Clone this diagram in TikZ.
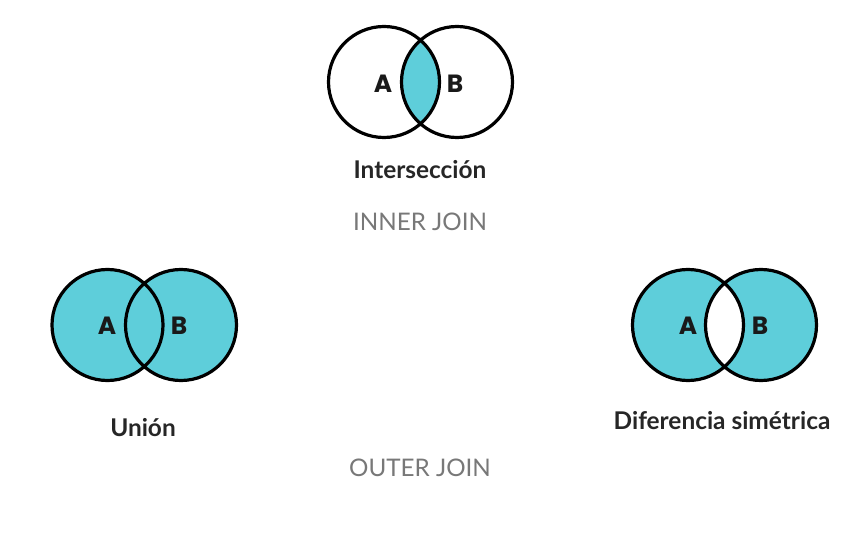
\documentclass[tikz,border=0pt]{standalone}
\usepackage{fontspec}
\setmainfont{Lato}
\newfontfamily\setfont{Poppins}
\definecolor{teal}{RGB}{94,206,218}
\definecolor{capgray}{RGB}{120,120,120}
\begin{document}
\begin{tikzpicture}[x=1bp,y=-1bp,
  ring/.style={draw=black,line width=3.2bp},
  setlabel/.style={font=\setfont\fontsize{25}{28}\selectfont\bfseries,text=black!90},
  title/.style={font=\fontsize{24.5}{28}\selectfont\bfseries,text=black!85},
  joinlabel/.style={font=\fontsize{24.3}{28}\selectfont,text=capgray}]
\useasboundingbox[fill=white] (0,0) rectangle (859,556);
\def\R{55.5}
% --- Intersection (top)
\coordinate (ia) at (384,82);
\coordinate (ib) at (457,82);
\begin{scope}
  \clip (ia) circle (\R);
  \fill[teal] (ib) circle (\R);
\end{scope}
\draw[ring] (ia) circle (\R) (ib) circle (\R);
\node[setlabel] (iA) at (383,84) {A};
\node[setlabel] (iB) at (455,84) {B};
\node[title] (tInt) at (420,170) {Intersección};
\node[joinlabel] (tInner) at (420,222) {INNER JOIN};
% --- Union (left)
\coordinate (ua) at (107.5,325);
\coordinate (ub) at (181,325);
\fill[teal] (ua) circle (\R) (ub) circle (\R);
\draw[ring] (ua) circle (\R) (ub) circle (\R);
\node[setlabel] (uA) at (107,326) {A};
\node[setlabel] (uB) at (179,326) {B};
\node[title] (tUni) at (143,428) {Unión};
% --- Symmetric difference (right)
\coordinate (da) at (688,325);
\coordinate (db) at (761,325);
\fill[teal,even odd rule] (da) circle (\R) (db) circle (\R);
\draw[ring] (da) circle (\R) (db) circle (\R);
\node[setlabel] (dA) at (688,326) {A};
\node[setlabel] (dB) at (760,326) {B};
\node[title] (tDif) at (722,421) {Diferencia simétrica};
\node[joinlabel] (tOuter) at (420,468) {OUTER JOIN};
\end{tikzpicture}
\end{document}
